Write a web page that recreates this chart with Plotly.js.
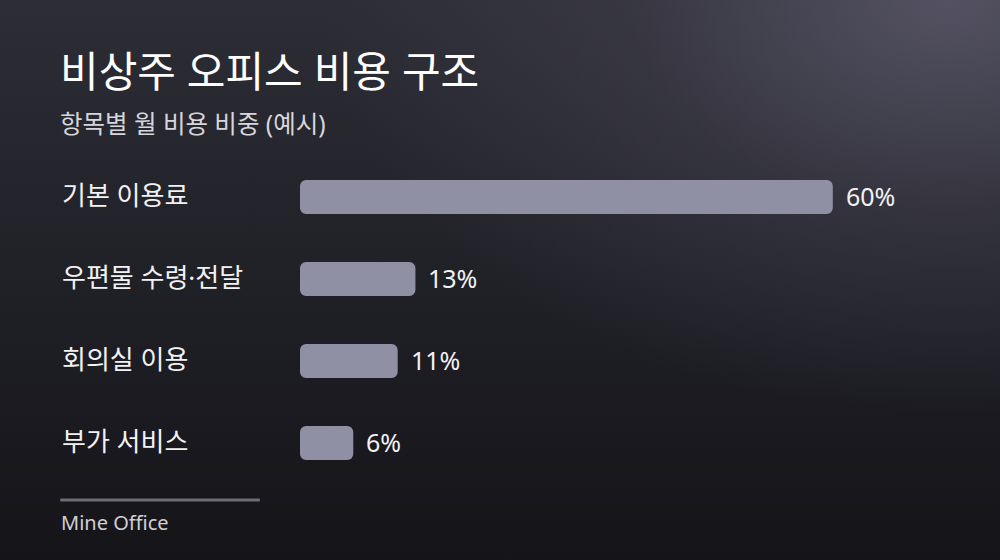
<!DOCTYPE html>
<html>
<head>
<meta charset="utf-8">
<script src="https://cdn.plot.ly/plotly-3.0.1.min.js"></script>
<style>
  html, body { margin: 0; padding: 0; }
  #chart {
    width: 1000px;
    height: 560px;
    background:
      radial-gradient(ellipse 80% 95% at 95% 0%, rgba(86, 84, 100, 0.95) 0%, rgba(62, 61, 74, 0.6) 40%, rgba(30, 30, 38, 0) 78%),
      linear-gradient(180deg, #2d2d36 0%, #202027 50%, #141419 100%);
  }
</style>
</head>
<body>
<div id="chart"></div>
<script>
const categories = [ '기본 이용료', '우편물 수령·전달', '회의실 이용', '부가 서비스' ];
const shares = [ 60, 13, 11, 6 ];
const valueLabels = [ '60%', '13%', '11%', '6%' ];

const titleText = '비상주 오피스 비용 구조';
const subtitleText = '항목별 월 비용 비중 (예시)';
const footerText = 'Mine Office';

const fontFamily = '"Noto Sans", "Noto Sans CJK KR", sans-serif';
const barColor = '#8f90a3';

// Plotly only rounds the far end of a bar, so each bar is drawn as two
// overlapping pieces: one rounded at the value end, one rounded at zero.
const outerPiece = {
    type: 'bar',
    orientation: 'h',
    base: shares.map(v => v * 0.3),
    x: shares.map(v => v * 0.7),
    y: categories,
    marker: { color: barColor, line: { width: 0 } },
    hoverinfo: 'skip',
};
const innerPiece = {
    type: 'bar',
    orientation: 'h',
    base: shares.map(v => v * 0.7),
    x: shares.map(v => -v * 0.7),
    y: categories,
    marker: { color: barColor, line: { width: 0 } },
    hoverinfo: 'skip',
};

const categoryNotes = categories.map(name => ({
    text: name,
    xref: 'paper',
    x: -0.36,
    xanchor: 'left',
    yref: 'y',
    y: name,
    yanchor: 'middle',
    yshift: 2,
    showarrow: false,
    font: { family: fontFamily, size: 26, color: '#f2f2f4' },
}));

const valueNotes = categories.map((name, i) => ({
    text: valueLabels[i],
    xref: 'x',
    x: shares[i],
    xanchor: 'left',
    xshift: 11,
    yref: 'y',
    y: name,
    yanchor: 'middle',
    yshift: 1,
    showarrow: false,
    font: { family: fontFamily, size: 25, color: '#f2f2f4' },
}));

const layout = {
    width: 1000,
    height: 560,
    margin: { t: 156, b: 76, l: 300, r: 34 },
    paper_bgcolor: 'rgba(0,0,0,0)',
    plot_bgcolor: 'rgba(0,0,0,0)',
    showlegend: false,
    barmode: 'overlay',
    bargap: 0.585,
    barcornerradius: 6,
    xaxis: {
        range: [ 0, 75 ],
        visible: false,
        fixedrange: true,
    },
    yaxis: {
        autorange: 'reversed',
        visible: false,
        fixedrange: true,
    },
    shapes: [
        {
            type: 'line',
            xref: 'paper', yref: 'paper',
            x0: -0.36, x1: -0.0603,
            y0: -0.0488, y1: -0.0488,
            line: { color: '#6c6b79', width: 3 },
        },
    ],
    annotations: [
        {
            text: titleText,
            xref: 'paper', yref: 'paper',
            x: -0.364, y: 1.262,
            xanchor: 'left', yanchor: 'middle',
            showarrow: false,
            font: { family: fontFamily, size: 42, color: '#ffffff' },
        },
        {
            text: subtitleText,
            xref: 'paper', yref: 'paper',
            x: -0.363, y: 1.1,
            xanchor: 'left', yanchor: 'middle',
            showarrow: false,
            font: { family: fontFamily, size: 24.5, color: '#d6d6dc' },
        },
        {
            text: footerText,
            xref: 'paper', yref: 'paper',
            x: -0.362, y: -0.116,
            xanchor: 'left', yanchor: 'middle',
            showarrow: false,
            font: { family: fontFamily, size: 20, color: '#d0d0d6' },
        },
        ...categoryNotes,
        ...valueNotes,
    ],
};

Plotly.newPlot('chart', [ outerPiece, innerPiece ], layout, { displayModeBar: false, staticPlot: true });
</script>
</body>
</html>
